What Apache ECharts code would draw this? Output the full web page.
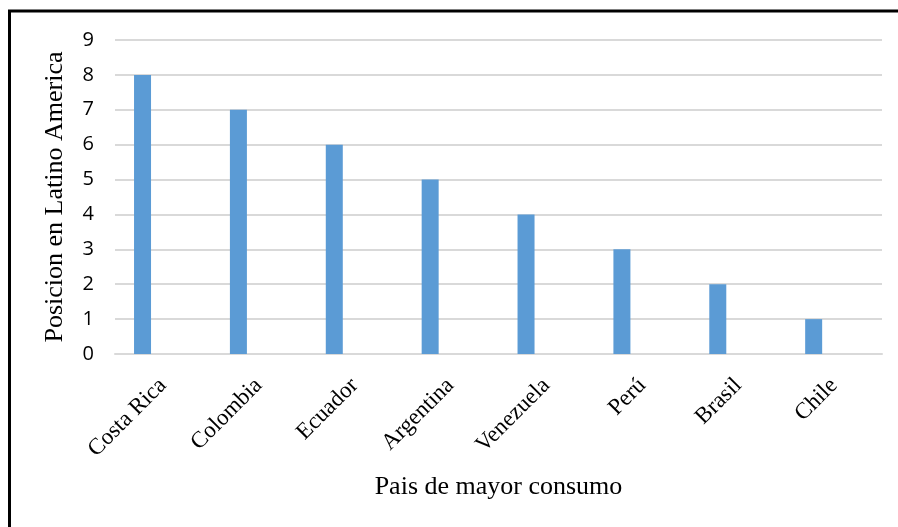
<!DOCTYPE html>
<html>
<head>
<meta charset="utf-8">
<title>Posicion en Latino America</title>
<script src="https://cdn.jsdelivr.net/npm/echarts@6/dist/echarts.min.js"></script>
<style>
  html, body { margin: 0; padding: 0; background: #fff; }
  #chart { width: 898px; height: 527px; }
</style>
</head>
<body>
<div id="chart"></div>
<script>
// Countries and their ranking position
const categories = ['Costa Rica', 'Colombia', 'Ecuador', 'Argentina', 'Venezuela', 'Perú', 'Brasil', 'Chile'];
const posiciones = [8, 7, 6, 5, 4, 3, 2, 1];
// Second cluster slot, left empty (keeps the column at the left of each category)
const reserva = [];
const yTicks = { min: 0, max: 9, interval: 1 };

const serif = '"Liberation Serif", "Times New Roman", serif';
const sans = '"Open Sans", "Liberation Sans", sans-serif';

const chart = echarts.init(document.getElementById('chart'), null, { renderer: 'canvas' });
chart.setOption({
  animation: false,
  backgroundColor: '#fff',
  graphic: [{
    type: 'rect',
    shape: { x: 9.5, y: 11, width: 1200, height: 1200 },
    style: { fill: 'none', stroke: '#000', lineWidth: 3 },
    silent: true
  }],
  grid: { left: 115, right: 16, top: 40, bottom: 173, containLabel: false },
  xAxis: {
    type: 'category',
    data: categories,
    boundaryGap: true,
    axisTick: { show: false },
    axisLine: { show: true, lineStyle: { color: '#d9d9d9', width: 2 } },
    axisLabel: {
      rotate: 45,
      margin: 28,
      interval: 0,
      fontFamily: serif,
      fontSize: 23,
      color: '#000'
    },
    name: 'Pais de mayor consumo',
    nameLocation: 'middle',
    nameGap: 120,
    nameTextStyle: { fontFamily: serif, fontSize: 26, color: '#000' }
  },
  yAxis: {
    type: 'value',
    min: yTicks.min,
    max: yTicks.max,
    interval: yTicks.interval,
    axisLine: { show: false },
    axisTick: { show: false },
    splitLine: { show: true, lineStyle: { color: '#d9d9d9', width: 2 } },
    axisLabel: { fontFamily: sans, fontSize: 20, color: '#000', margin: 21 },
    name: 'Posicion en Latino America',
    nameLocation: 'middle',
    nameGap: 47,
    nameTextStyle: { fontFamily: serif, fontSize: 26, color: '#000' }
  },
  series: [
    {
      name: 'Posicion',
      type: 'bar',
      data: posiciones,
      barWidth: 17,
      barGap: '140%',
      itemStyle: { color: '#5b9bd5' }
    },
    {
      name: 'Reserva',
      type: 'bar',
      data: reserva,
      barWidth: 17,
      itemStyle: { color: '#ed7d31' }
    }
  ]
});
</script>
</body>
</html>
